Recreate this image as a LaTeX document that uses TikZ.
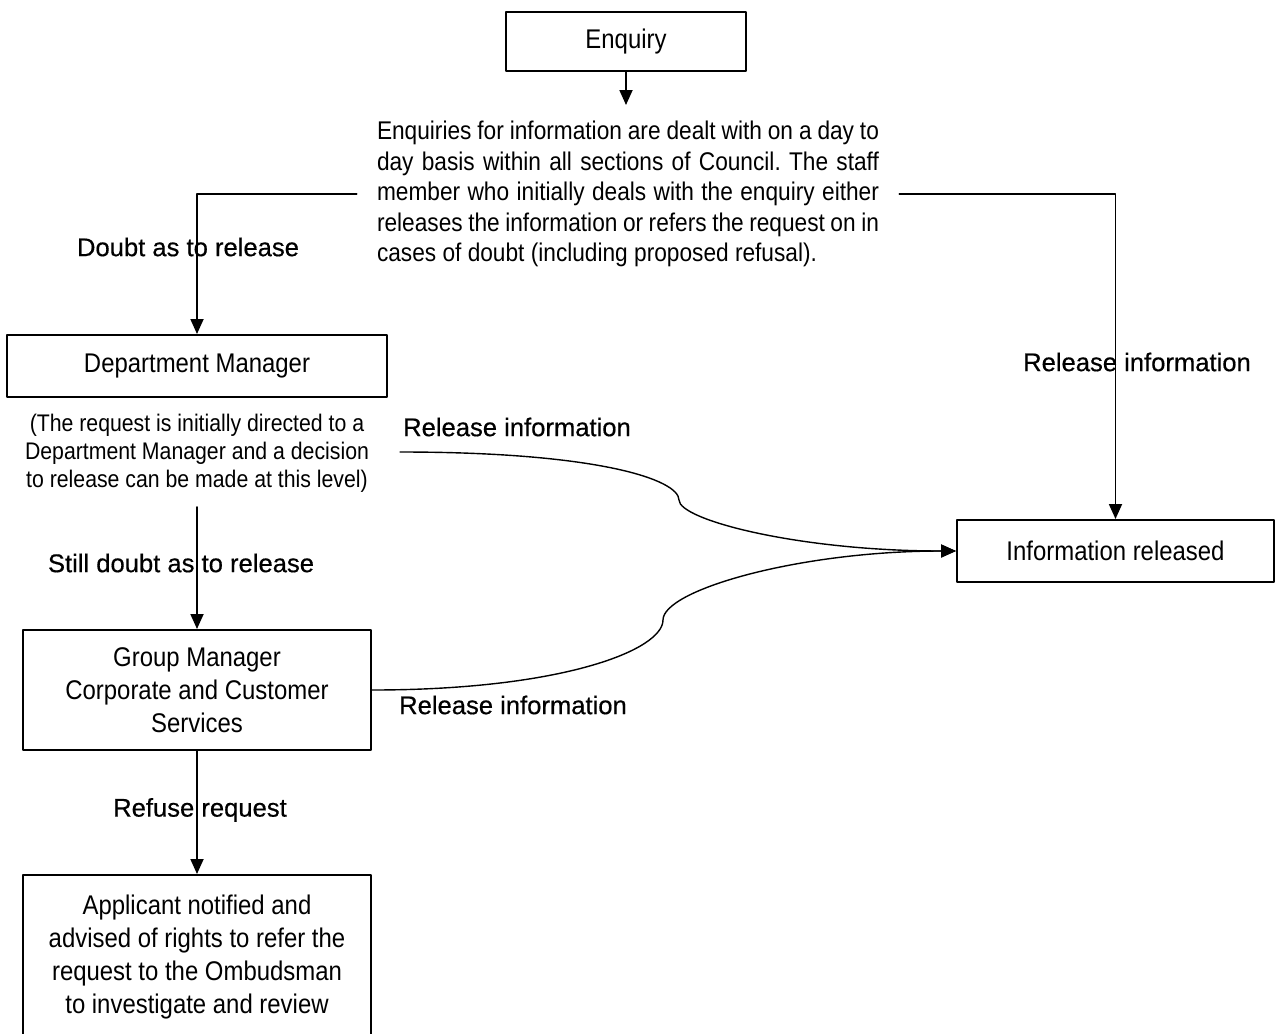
\documentclass[tikz,border=0pt]{standalone}
\usepackage{fontspec}
\setmainfont{Liberation Sans}
\newfontfamily\narrowfont[FakeStretch=0.886]{Liberation Sans}
\newfontfamily\labelfont[FakeBold=0.5]{Liberation Sans}
\usetikzlibrary{arrows.meta}
\frenchspacing

\begin{document}
\begin{tikzpicture}[
    x=0.5pt, y=-0.5pt,
    >={Triangle[length=7.5pt,width=6.5pt]},
    line cap=round,
    line join=round,
    box/.style={draw, line width=1pt, align=center, inner sep=0pt,
        font=\narrowfont\fontsize{13.5}{16.5}\selectfont},
    flow/.style={->, line width=0.9pt},
    lbl/.style={font=\labelfont\fontsize{12.8}{15}\selectfont}
]

\useasboundingbox (0,0) rectangle (1276,1034);

%------------------------------------------------
% Boxes
%------------------------------------------------
\node[box, minimum width=120pt, minimum height=29.5pt] (enquiry)
    at (626,41.5) {Enquiry};

\node[box, minimum width=190pt, minimum height=31pt] (deptmgr)
    at (197,366) {Department Manager};

\node[box, minimum width=174pt, minimum height=60pt] (groupmgr)
    at (197,690) {Group Manager\\Corporate and Customer\\Services};

\node[box, minimum width=174pt, minimum height=82.5pt] (applicant)
    at (197,957.5) {Applicant notified and\\advised of rights to refer the\\
    request to the Ombudsman\\to investigate and review};

\node[box, minimum width=158.5pt, minimum height=31pt] (released)
    at (1115.5,551) {Information released};

%------------------------------------------------
% Free text
%------------------------------------------------
\node[text width=251pt, align=justify, inner xsep=10pt, inner ysep=0pt,
    font=\narrowfont\fontsize{12.8}{15.25}\selectfont] (enqtext) at (628,194)
    {Enquiries for information are dealt with on a day to\linebreak
    day basis within all sections of Council. The staff\linebreak
    member who initially deals with the enquiry either\linebreak
    releases the information or refers the request on in\linebreak
    cases of doubt (including proposed refusal).};

\node[align=center, font=\narrowfont\fontsize{12}{14}\selectfont] (deptnote)
    at (197,453) {(The request is initially directed to a\\
    Department Manager and a decision\\to release can be made at this level)};

%------------------------------------------------
% Labels
%------------------------------------------------
\node[lbl] (lbldoubt) at (188,247) {Doubt as to release};
\node[lbl] (lblstill) at (181,563) {Still doubt as to release};
\node[lbl] (lblrefuse) at (200,810) {Refuse request};
\node[lbl] (lblrelright) at (1137,362) {Release information};
\node[lbl] (lblrelupper) at (517,427) {Release information};
\node[lbl] (lblrellower) at (513,705) {Release information};

%------------------------------------------------
% Connectors
%------------------------------------------------
\coordinate (enqend) at (626,105);
\coordinate (noteend) at (197,507);
\coordinate (relstart) at (400,452);
\coordinate (hookupper) at (679,500);
\coordinate (hooklower) at (663,620);

\draw[flow] (enquiry) -- (enqend);
\draw[flow] (enqtext.west) -| (deptmgr.north);
\draw[flow] (enqtext.east) -| (released.north);
\draw[flow] (noteend) -- (groupmgr);
\draw[flow] (groupmgr) -- (applicant);

% curved release paths
\draw[flow, line width=0.7pt] (relstart)
    .. controls +(200,0) and +(0,-20) .. (hookupper)
    .. controls +(0,20) and +(-157,0) .. (released.west);
\draw[flow, line width=0.7pt] (groupmgr.east)
    .. controls +(190,0) and +(0,30) .. (hooklower)
    .. controls +(0,-30) and +(-157,0) .. (released.west);

\end{tikzpicture}
\end{document}
